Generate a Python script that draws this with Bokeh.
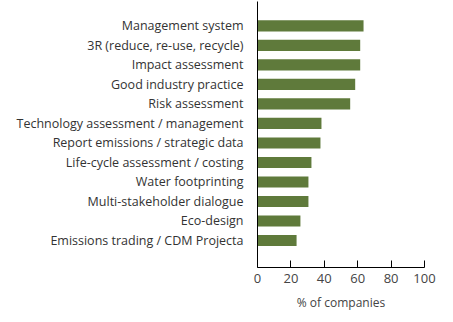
import numpy as np
from bokeh.plotting import figure
from bokeh.models import Range1d, FixedTicker
from bokeh.embed import file_html
from bokeh.resources import INLINE

categories = [
    "Management system",
    "3R (reduce, re-use, recycle)",
    "Impact assessment",
    "Good industry practice",
    "Risk assessment",
    "Technology assessment / management",
    "Report emissions / strategic data",
    "Life-cycle assessment / costing",
    "Water footprinting",
    "Multi-stakeholder dialogue",
    "Eco-design",
    "Emissions trading / CDM Projecta",
]
values = [63.5, 61.5, 61.5, 58.5, 55.5, 38.3, 37.7, 32.3, 30.5, 30.5, 25.7, 23.4]
x_ticks = [0, 20, 40, 60, 80, 100]

n = len(categories)
ypos = list(range(n - 1, -1, -1))

p = figure(width=453, height=322, output_backend="svg", toolbar_location=None,
           x_range=Range1d(0, 100), y_range=Range1d(-1.385, n - 1 + 1.25),
           min_border_left=257, min_border_right=29, min_border_top=1, min_border_bottom=55)
p.outline_line_color = None
p.grid.visible = False
p.background_fill_color = "white"
p.border_fill_color = "white"

p.hbar(y=ypos, right=values, left=0, height=0.57, fill_color="#5f7a3b", line_color=None)

font = "Open Sans"
p.yaxis.ticker = FixedTicker(ticks=ypos)
p.yaxis.major_label_overrides = {y: c for y, c in zip(ypos, categories)}
p.yaxis.major_tick_line_color = None
p.yaxis.major_tick_out = 0
p.yaxis.major_tick_in = 0
p.yaxis.minor_tick_line_color = None
p.yaxis.major_label_standoff = 14
p.yaxis.major_label_text_font = font
p.yaxis.major_label_text_font_size = "12.5px"
p.yaxis.major_label_text_color = "#333333"
p.yaxis.axis_line_color = "black"

p.xaxis.ticker = FixedTicker(ticks=x_ticks)
p.xaxis.major_tick_in = 7
p.xaxis.major_tick_out = 0
p.xaxis.minor_tick_line_color = None
p.xaxis.major_label_standoff = 6
p.xaxis.major_label_text_font = font
p.xaxis.major_label_text_font_size = "13px"
p.xaxis.major_label_text_color = "#444444"
p.xaxis.axis_label = "% of companies"
p.xaxis.axis_label_text_font = font
p.xaxis.axis_label_text_font_style = "normal"
p.xaxis.axis_label_text_font_size = "12px"
p.xaxis.axis_label_text_color = "#444444"
p.xaxis.axis_label_standoff = 8
p.xaxis.axis_line_color = "black"

open("out.html", "w").write(file_html(p, INLINE))
